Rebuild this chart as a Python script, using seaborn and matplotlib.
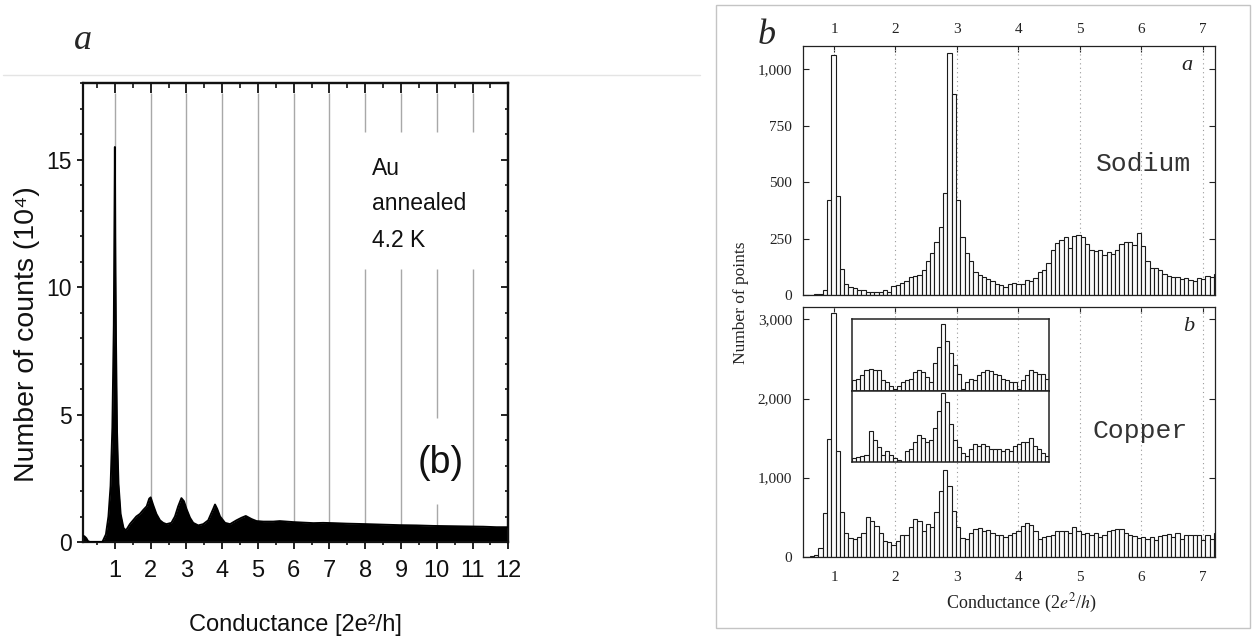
import numpy as np
import pandas as pd
import matplotlib
matplotlib.use("Agg")
import matplotlib.pyplot as plt
import seaborn as sns
from matplotlib.ticker import MultipleLocator, FuncFormatter, NullFormatter
from matplotlib.patches import Rectangle
from matplotlib.lines import Line2D

# ---------------- panel a: gold, annealed, 4.2 K ----------------
au_conductance = [0.10, 0.15, 0.20, 0.25, 0.30, 0.65, 0.75, 0.82, 0.88, 0.93,
                  0.97, 0.99, 1.00, 1.01, 1.03, 1.06, 1.10, 1.16, 1.24, 1.31,
                  1.42, 1.51, 1.60, 1.70, 1.79, 1.89, 1.96, 2.00, 2.07, 2.16,
                  2.26, 2.35, 2.44, 2.58, 2.68, 2.77, 2.86, 2.93, 3.00, 3.10,
                  3.19, 3.33, 3.47, 3.61, 3.75, 3.80, 3.86, 3.94, 4.08, 4.22,
                  4.40, 4.54, 4.66, 4.82, 4.96, 5.15, 5.43, 5.61, 5.80, 5.99,
                  6.27, 6.55, 6.82, 7.10, 7.48, 8.04, 8.50, 8.97, 9.43, 9.90,
                  10.37, 10.83, 11.30, 11.67, 12.00]
au_counts = [0.25, 0.22, 0.15, 0.03, 0.00, 0.00, 0.30, 1.00, 2.20, 4.50,
             8.50, 13.0, 15.5, 12.0, 8.00, 4.30, 2.30, 1.10, 0.55, 0.45,
             0.70, 0.85, 1.00, 1.10, 1.25, 1.40, 1.70, 1.75, 1.45, 1.10,
             0.85, 0.75, 0.70, 0.75, 1.00, 1.40, 1.72, 1.60, 1.30, 0.95,
             0.75, 0.65, 0.70, 0.85, 1.30, 1.47, 1.30, 1.00, 0.75, 0.70,
             0.85, 0.95, 1.02, 0.90, 0.82, 0.80, 0.80, 0.82, 0.80, 0.78,
             0.76, 0.74, 0.75, 0.74, 0.72, 0.70, 0.68, 0.66, 0.65, 0.63,
             0.62, 0.61, 0.60, 0.58, 0.58]

# gray guides at integer conductance (segments, broken around the labels)
guide_x = [1, 2, 3, 4, 5, 6, 7, 8, 8, 9, 9, 10, 10, 10, 11, 11]
guide_lo = [0, 0, 0, 0, 0, 0, 0, 0, 16.1, 0, 16.1, 0, 4.85, 16.1, 0, 16.1]
guide_hi = [17.6, 17.6, 17.6, 17.6, 17.6, 17.6, 17.6, 10.7, 17.6, 10.7, 17.6,
            1.5, 10.7, 17.6, 10.7, 17.6]

# ---------------- panel b: sodium and copper histograms ----------------
bin_start, bin_width = 0.465, 0.07
sodium_counts = [0, 0, 0, 3, 5, 20, 420, 1065, 440, 115,
                 50, 35, 30, 20, 20, 15, 15, 15, 15, 20,
                 15, 40, 45, 55, 60, 80, 85, 90, 110, 150,
                 185, 235, 300, 450, 1070, 890, 420, 255, 185, 150,
                 100, 90, 80, 70, 60, 50, 45, 35, 50, 55,
                 50, 50, 65, 60, 75, 100, 110, 140, 200, 230,
                 245, 255, 210, 260, 265, 255, 225, 200, 195, 200,
                 175, 190, 180, 200, 225, 235, 235, 220, 275, 215,
                 150, 120, 120, 110, 95, 85, 80, 80, 70, 75,
                 65, 60, 75, 70, 85, 80, 95]
copper_counts = [0, 0, 5, 20, 110, 550, 1490, 3080, 1340, 560,
                 300, 240, 220, 250, 300, 500, 450, 390, 300, 200,
                 180, 150, 200, 270, 280, 380, 480, 450, 330, 410,
                 380, 570, 830, 1090, 890, 580, 380, 240, 220, 300,
                 350, 360, 330, 340, 300, 280, 270, 250, 280, 300,
                 320, 390, 420, 400, 330, 230, 250, 260, 270, 330,
                 330, 320, 300, 370, 330, 290, 300, 280, 300, 250,
                 270, 320, 340, 350, 350, 300, 270, 260, 240, 250,
                 230, 250, 210, 260, 280, 290, 250, 300, 220, 270,
                 280, 270, 280, 210, 270, 230, 300]

# inset: two further copper histograms (arbitrary units)
inset_start, inset_stop = 1.30, 4.50
inset_upper = [32, 35, 45, 62, 65, 62, 62, 32, 25, 15,
               5, 15, 25, 30, 35, 55, 60, 55, 40, 25,
               80, 130, 195, 145, 110, 75, 50, 5, 25, 35,
               30, 45, 55, 60, 58, 50, 45, 35, 30, 25,
               25, 5, 30, 45, 60, 55, 50, 48, 35]
inset_lower = [10, 12, 15, 20, 85, 60, 40, 20, 30, 20,
               10, 5, 0, 30, 35, 55, 75, 65, 55, 60,
               95, 140, 190, 165, 105, 60, 40, 25, 15, 35,
               50, 45, 50, 45, 35, 35, 35, 30, 35, 30,
               45, 50, 55, 55, 65, 45, 35, 25, 15]

# ---------------- style ----------------
sns.set_theme(style="ticks")
plt.rcParams["font.family"] = ["Liberation Sans", "DejaVu Sans"]
plt.rcParams["mathtext.fontset"] = "stix"

W, H = 1253, 642
fig = plt.figure(figsize=(W / 100, H / 100), dpi=100)
fig.patch.set_facecolor("white")


def fx(px):
    return px / W


def fy(py):
    return 1 - py / H


# ======== panel a ========
axL = fig.add_axes([fx(82.7), fy(542), fx(508.3) - fx(82.7), fy(83.3) - fy(542)])
axL.set_facecolor("white")
axL.vlines(guide_x, guide_lo, guide_hi, colors="#a8a8a8", linewidth=1.0, zorder=1)
au = pd.DataFrame({"G": au_conductance, "N": au_counts})
axL.fill_between(au["G"], au["N"], 0, color="black", linewidth=0, zorder=2)
sns.lineplot(data=au, x="G", y="N", ax=axL, color="black", linewidth=1.4,
             estimator=None, zorder=3)
axL.set_xlim(0.1, 12)
axL.set_ylim(0, 18)
axL.set_xlabel("")
axL.set_ylabel("")
axL.set_xticks(range(1, 13))
axL.xaxis.set_minor_locator(MultipleLocator(0.5))
axL.set_yticks([0, 5, 10, 15])
axL.yaxis.set_minor_locator(MultipleLocator(1))
axL.tick_params(axis="x", which="major", direction="out", length=5, width=1.3,
                labelsize=17, pad=8, colors="#111")
axL.tick_params(axis="y", which="major", direction="out", length=4.5, width=1.3,
                labelsize=16.5, pad=3.5, colors="#111")
axL.tick_params(which="minor", direction="out", length=2.5, width=1.2, colors="#111")
for s in axL.spines.values():
    s.set_linewidth(1.6)
    s.set_color("#111")

secx = axL.secondary_xaxis("top")
secx.set_xticks(range(1, 13))
secx.xaxis.set_minor_locator(MultipleLocator(0.5))
secx.tick_params(which="major", direction="in", length=7, width=1.3, labeltop=False, colors="#111")
secx.tick_params(which="minor", direction="in", length=3.5, width=1.2, colors="#111")
secx.xaxis.set_major_formatter(NullFormatter())
secx.spines["top"].set_linewidth(1.6)
secy = axL.secondary_yaxis("right")
secy.set_yticks([0, 5, 10, 15])
secy.yaxis.set_minor_locator(MultipleLocator(1))
secy.tick_params(which="major", direction="in", length=5, width=1.3, labelright=False, colors="#111")
secy.tick_params(which="minor", direction="in", length=2.5, width=1.2, colors="#111")
secy.yaxis.set_major_formatter(NullFormatter())
secy.spines["right"].set_linewidth(1.6)

axL.text(8.2, 14.41, "Au", fontsize=16.5, ha="left", va="baseline", color="#111")
axL.text(8.2, 13.03, "annealed", fontsize=16.5, ha="left", va="baseline", color="#111")
axL.text(8.2, 11.57, "4.2 K", fontsize=16.5, ha="left", va="baseline", color="#111")
axL.text(9.47, 3.09, "(b)", fontsize=27, ha="left", va="center", color="#111")
axL.text(0.5, -0.181, "Conductance [2e²/h]", transform=axL.transAxes,
         fontsize=17, ha="center", va="center", color="#111")
axL.text(-0.131, 0.4535, "Number of counts (10⁴)", transform=axL.transAxes,
         fontsize=20.5, ha="center", va="center", rotation=90, color="#111")

fig.text(fx(83), fy(40.5), "a", fontsize=26, style="italic", family="Liberation Serif",
         ha="center", va="center")
fig.add_artist(Line2D([fx(3), fx(700)], [fy(75), fy(75)], color="#e4e4e4", linewidth=1.0))

# ======== panel b ========
fig.add_artist(Rectangle((fx(716), fy(628)), fx(1250) - fx(716), fy(5) - fy(628),
                         transform=fig.transFigure, fill=False, edgecolor="#c4c4c4",
                         linewidth=1.0))
fig.text(fx(766.7), fy(35), "b", fontsize=26, style="italic", family="Liberation Serif",
         ha="center", va="center")

hist_edges = np.round(bin_start + bin_width * np.arange(len(sodium_counts) + 1), 4)
hist_centers = hist_edges[:-1] + bin_width / 2
serif = "Liberation Serif"


def hist_panel(ax, counts, edges, centers):
    df = pd.DataFrame({"G": centers, "N": counts})
    sns.histplot(data=df, x="G", weights="N", bins=list(edges), ax=ax, stat="count",
                 color="#fbfbfb", edgecolor="#1a1a1a", linewidth=0.8, alpha=1, zorder=2)
    ax.set_xlabel("")
    ax.set_ylabel("")


def style_panel(ax, ymax, yticks, label_top):
    ax.set_xlim(0.5, 7.2)
    ax.set_ylim(0, ymax)
    ax.set_xticks(range(1, 8))
    ax.set_yticks(yticks)
    ax.yaxis.set_major_formatter(FuncFormatter(lambda v, p: f"{int(v):,}"))
    for k in range(1, 8):
        ax.axvline(k, color="#9a9a9a", linestyle=(0, (1, 3)), linewidth=0.8, zorder=1)
    ax.tick_params(direction="in", length=4, width=0.8, top=True, right=True,
                   labelsize=11, labelfontfamily=serif, colors="#222",
                   labeltop=label_top, labelbottom=not label_top)
    ax.tick_params(axis="x", pad=7 if label_top else 10)
    ax.tick_params(axis="y", pad=8)
    for s in ax.spines.values():
        s.set_linewidth(0.9)
        s.set_color("#222")


axNa = fig.add_axes([fx(803.3), fy(295), fx(1215) - fx(803.3), fy(46) - fy(295)])
hist_panel(axNa, sodium_counts, hist_edges, hist_centers)
style_panel(axNa, 1103, [0, 250, 500, 750, 1000], True)
axNa.text(0.8276, 0.526, "Sodium", transform=axNa.transAxes, fontsize=19,
          family="Liberation Mono", ha="center", va="center", color="#333")
axNa.text(0.932, 0.92, "a", transform=axNa.transAxes, fontsize=16, style="italic",
          family=serif, ha="center", va="center", color="#222")

axCu = fig.add_axes([fx(803.3), fy(556.7), fx(1215) - fx(803.3), fy(307.3) - fy(556.7)])
hist_panel(axCu, copper_counts, hist_edges, hist_centers)
style_panel(axCu, 3153, [0, 1000, 2000, 3000], False)
axCu.text(0.818, 0.504, "Copper", transform=axCu.transAxes, fontsize=19,
          family="Liberation Mono", ha="center", va="center", color="#333")
axCu.text(0.937, 0.925, "b", transform=axCu.transAxes, fontsize=16, style="italic",
          family=serif, ha="center", va="center", color="#222")

# inset with two stacked histograms
inset_edges = np.linspace(inset_start, inset_stop, len(inset_upper) + 1)
inset_centers = (inset_edges[:-1] + inset_edges[1:]) / 2
for lo, counts, ytop in [(2100, inset_upper, 210), (1200, inset_lower, 198)]:
    ins = axCu.inset_axes([inset_start, lo, inset_stop - inset_start, 900],
                          transform=axCu.transData)
    ins.set_facecolor("white")
    dfi = pd.DataFrame({"G": inset_centers, "N": counts})
    sns.histplot(data=dfi, x="G", weights="N", bins=list(inset_edges), ax=ins,
                 color="#fbfbfb", edgecolor="#1a1a1a", linewidth=0.8, alpha=1, zorder=2)
    for k in (2, 3, 4):
        ins.axvline(k, color="#9a9a9a", linestyle=(0, (1, 3)), linewidth=0.8, zorder=1)
    ins.set_xlim(inset_start, inset_stop)
    ins.set_ylim(0, ytop)
    ins.set_xticks([])
    ins.set_yticks([])
    ins.set_xlabel("")
    ins.set_ylabel("")
    for s in ins.spines.values():
        s.set_linewidth(1.1)
        s.set_color("#222")

fig.text(fx(1021), fy(603), "Conductance (2$e^2$/$h$)", fontsize=13, family=serif,
         ha="center", va="center", color="#222")
fig.text(fx(741), fy(302.5), "Number of points", fontsize=12.5, family=serif,
         ha="center", va="center", rotation=90, color="#222")

fig.savefig("out.png", dpi=100, facecolor="white")
